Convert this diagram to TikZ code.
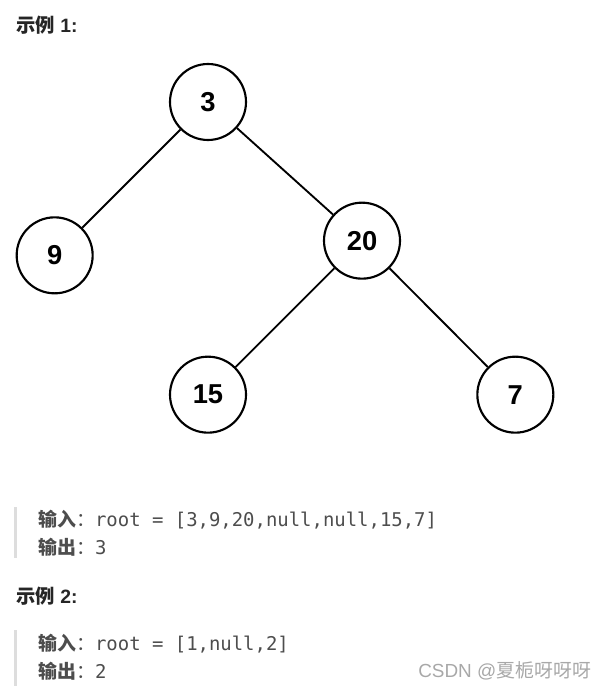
\documentclass[tikz,border=0pt]{standalone}
\usepackage{fontspec}
\setmainfont{Liberation Sans}
\setmonofont{DejaVu Sans Mono}
\newfontfamily\cjk{Noto Sans CJK SC}
\usetikzlibrary{positioning}
\definecolor{txtgray}{HTML}{4D4D4D}
\definecolor{bargray}{HTML}{DDDDDD}
\definecolor{markgray}{HTML}{A8A8A8}
\tikzset{node distance=115pt,
tree node/.style={
circle, draw,
line width=1.6pt,
minimum size=57pt,
inner sep=0pt,
font=\fontsize{20.5}{24}\selectfont\bfseries},
every edge/.style={
draw,
line width=1.4pt},
heading/.style={anchor=west, inner sep=0pt, text=black!85,
font=\fontsize{14.5}{17}\selectfont\bfseries},
codeline/.style={anchor=west, inner sep=0pt, text=txtgray,
font=\fontsize{14.2}{17}\selectfont}}

\begin{document}
\begin{tikzpicture}[x=0.75pt, y=-0.75pt]
\useasboundingbox (0,0) rectangle (604,691);
\node[heading] (ex1) at (16,25) {{\cjk 示例} 1:};
\node[tree node] (n3) at (208,102) {3};
\node[tree node, on grid, below left=115pt and 115pt of n3] (n9) {9};
\node[tree node, on grid, below right=104pt and 115.5pt of n3] (n20) {20};
\node[tree node, on grid, below left=115.5pt and 115.5pt of n20] (n15) {15};
\node[tree node, on grid, below right=115.5pt and 115pt of n20] (n7) {7};
\draw (n3) edge (n9);
\draw (n3) edge (n20);
\draw (n20) edge (n15);
\draw (n20) edge (n7);
\fill[bargray] (14,507) rectangle (17,558);
\node[codeline] (in1) at (38,520) {{\cjk\bfseries 输入}{\cjk ：}\ttfamily root = [3,9,20,null,null,15,7]};
\node[codeline] (out1) at (38,547) {{\cjk\bfseries 输出}{\cjk ：}\ttfamily 3};
\node[heading] (ex2) at (16,596) {{\cjk 示例} 2:};
\fill[bargray] (14,630) rectangle (17,686);
\node[codeline] (in2) at (38,644) {{\cjk\bfseries 输入}{\cjk ：}\ttfamily root = [1,null,2]};
\node[codeline] (out2) at (38,671) {{\cjk\bfseries 输出}{\cjk ：}\ttfamily 2};
\node[anchor=west, inner sep=0pt, text=markgray, font=\fontsize{14.2}{17}\selectfont] (mark) at (418,671) {CSDN @{\cjk 夏栀呀呀呀}};
\end{tikzpicture}
\end{document}
